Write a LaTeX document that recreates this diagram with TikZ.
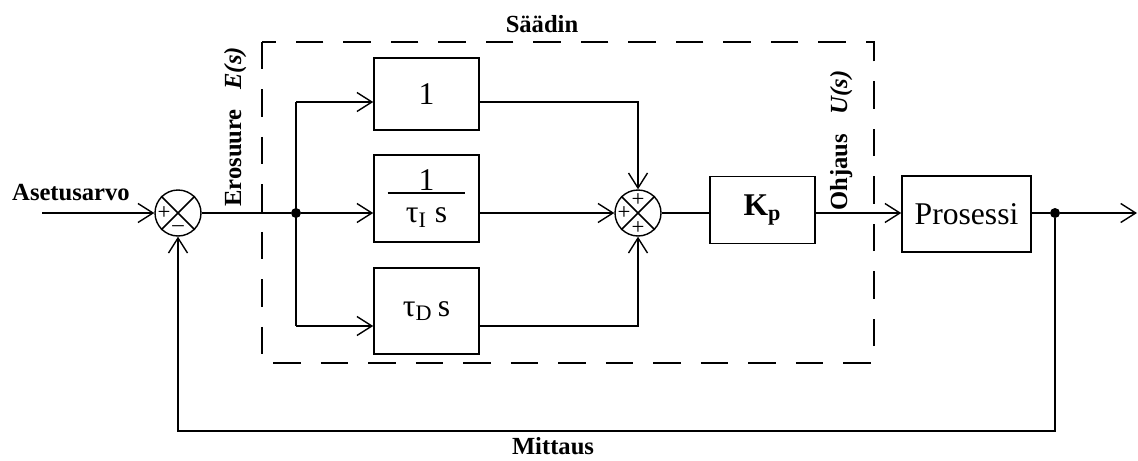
\documentclass[tikz,border=0pt]{standalone}
\usepackage{fontspec}
\setmainfont{Liberation Serif}
\usetikzlibrary{arrows.meta,positioning,calc}

\tikzset{
  blk/.style={draw, line width=0.9pt, minimum width=2.1cm, inner sep=0pt,
    font=\fontsize{18}{20}\selectfont},
  sumnode/.style={draw, circle, line width=0.8pt, minimum size=0.92cm, inner sep=0pt},
  sgn/.style={font=\fontsize{13}{13}\selectfont, inner sep=0pt},
  lbl/.style={font=\bfseries\fontsize{14}{16}\selectfont, inner sep=0pt},
  arr/.style={-{Straight Barb[length=0.3cm, width=0.38cm, line width=0.8pt]}},
  wire/.style={line width=0.9pt},
  dot/.style={circle, fill, inner sep=0pt, minimum size=0.2cm},
  ctrlbox/.style={line width=1pt, dash pattern=on 0.55cm off 0.4cm}
}

\begin{document}
\begin{tikzpicture}[x=0.02cm, y=-0.02cm]
  \useasboundingbox (0,0) rectangle (1138,460);

  % summing points
  \node[sumnode] (sum1) at (178,213) {};
  \node[sumnode] (sum2) at (638,213) {};
  \foreach \s in {sum1,sum2} {
    \draw[wire] (\s.north west) -- (\s.south east);
    \draw[wire] (\s.north east) -- (\s.south west);
  }
  \node[sgn] (s1w) at (164,213) {+};
  \node[sgn] (s1s) at (178,229) {–};
  \node[sgn] (s2w) at (624,213) {+};
  \node[sgn] (s2n) at (638,200) {+};
  \node[sgn] (s2s) at (638,228) {+};

  % controller blocks
  \node[blk, minimum height=1.44cm] (p1) at (426.5,94) {1};
  \node[blk, minimum height=1.74cm] (pi) at (426.5,198.5)
    {\vbox{\hbox to 1.56cm{\hfil 1\hfil}\kern1pt\hrule height 0.9pt\kern8pt
      \hbox to 1.56cm{\hfil τ\textsubscript{I} s\hfil}}};
  \node[blk, minimum height=1.72cm] (pd) at (426.5,311) {τ\textsubscript{D}\,s};
  \node[blk, minimum height=1.34cm] (kp) at (762.5,210) {\textbf{K}\textsubscript{\textbf{p}}};
  \node[blk, minimum width=2.58cm, minimum height=1.52cm] (proc) at (966.5,214) {Prosessi};

  % controller frame
  \draw[ctrlbox] (262,42) rectangle (874,363);
  \node[lbl] (saadin) at (542,24) {Säädin};

  % branch points
  \coordinate (setp) at (42,213);
  \node[dot] (j1) at (296,213) {};
  \node[dot] (j2) at (1055,213) {};
  \coordinate (r1) at (296,102);
  \coordinate (r3) at (296,326);
  \coordinate (yout) at (1137,213);

  % connectors
  \draw[wire, arr] (setp) -- (sum1.west);
  \draw[wire] (sum1.east) -- (j1);
  \draw[wire] (r1) -- (r3);
  \draw[wire, arr] (r1) -- (r1 -| p1.west);
  \draw[wire, arr] (j1) -- (j1 -| pi.west);
  \draw[wire, arr] (r3) -- (r3 -| pd.west);
  \draw[wire, arr] (r1 -| p1.east) -| (sum2.north);
  \draw[wire, arr] (j1 -| pi.east) -- (sum2.west);
  \draw[wire, arr] (r3 -| pd.east) -| (sum2.south);
  \draw[wire] (sum2.east) -- (sum2.east -| kp.west);
  \draw[wire, arr] (sum2.east -| kp.east) -- (sum2.east -| proc.west);
  \draw[wire] (j2 -| proc.east) -- (j2);
  \draw[wire, arr] (j2) -- (yout);
  \draw[wire, arr] (j2) -- ++(0,218) -| (sum1.south);

  % signal labels
  \node[lbl] (setlbl) at (71,193) {Asetusarvo};
  \node[lbl, rotate=90, anchor=base west] (errlbl) at (241,207) {Erosuure\hspace{0.8em}\textit{E(s)}};
  \node[lbl, rotate=90, anchor=base west] (ulbl) at (847,211) {Ohjaus\hspace{0.8em}\textit{U(s)}};
  \node[lbl] (meas) at (553,446) {Mittaus};
\end{tikzpicture}
\end{document}
